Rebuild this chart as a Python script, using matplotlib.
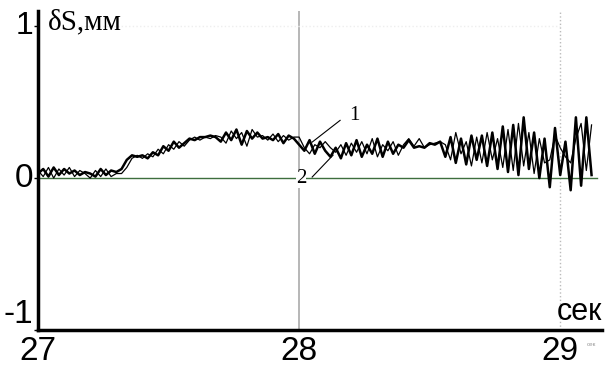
import numpy as np
import matplotlib.pyplot as plt

# time grid, step 0.02 s
t = np.round(27.0 + 0.02 * np.arange(107), 2)

# curve 1 (thick)
s1 = [0.03, 0.06, 0.01, 0.07, 0.02, 0.06, 0.03, 0.05, 0.02, 0.04, 0.03, 0.01, 0.06, 0.02, 0.05, 0.04,
      0.06, 0.12, 0.15, 0.14, 0.15, 0.13, 0.17, 0.15, 0.21, 0.18, 0.24, 0.20, 0.23, 0.26,
      0.25, 0.27, 0.27, 0.28, 0.27, 0.24, 0.30, 0.25, 0.32, 0.22, 0.31, 0.26, 0.30, 0.26,
      0.27, 0.25, 0.29, 0.23, 0.28, 0.26, 0.22, 0.18, 0.25, 0.16, 0.24, 0.18, 0.14, 0.20,
      0.13, 0.23, 0.15, 0.25, 0.14, 0.22, 0.16, 0.26, 0.14, 0.24, 0.16, 0.22, 0.20, 0.25,
      0.20, 0.21, 0.20, 0.23, 0.22, 0.24, 0.14, 0.27, 0.10, 0.26, 0.09, 0.28, 0.12, 0.28,
      0.08, 0.30, 0.06, 0.34, 0.04, 0.35, 0.02, 0.40, 0.06, 0.30, 0.00, 0.26, -0.06, 0.33,
      0.02, 0.24, -0.08, 0.40, -0.05, 0.40, 0.02]

# curve 2 (thin)
s2 = [0.05, 0.01, 0.07, 0.00, 0.06, 0.02, 0.07, 0.01, 0.05, 0.03, 0.00, 0.05, 0.01, 0.06, 0.01, 0.03,
      0.03, 0.07, 0.13, 0.15, 0.13, 0.16, 0.14, 0.19, 0.16, 0.22, 0.19, 0.24, 0.21, 0.25,
      0.27, 0.25, 0.27, 0.26, 0.28, 0.27, 0.23, 0.31, 0.26, 0.30, 0.21, 0.32, 0.27, 0.28,
      0.25, 0.29, 0.24, 0.28, 0.25, 0.27, 0.27, 0.20, 0.16, 0.22, 0.20, 0.24, 0.20, 0.17,
      0.22, 0.15, 0.23, 0.17, 0.24, 0.16, 0.26, 0.14, 0.22, 0.18, 0.24, 0.15, 0.22, 0.26,
      0.21, 0.26, 0.20, 0.22, 0.23, 0.24, 0.22, 0.12, 0.30, 0.16, 0.24, 0.08, 0.27, 0.10,
      0.30, 0.12, 0.26, 0.07, 0.32, 0.05, 0.36, 0.08, 0.30, 0.03, 0.26, 0.10, 0.12, 0.28,
      0.20, 0.14, 0.10, 0.26, 0.36, 0.05, 0.35]

xticks = [27, 28, 29]
yticks = [1, 0, -1]

plt.rcParams['font.family'] = ['Liberation Sans', 'DejaVu Sans']
serif = ['Liberation Serif', 'DejaVu Serif']

fig = plt.figure(figsize=(6.08, 3.67), dpi=100)
ax = fig.add_axes([38 / 608, 1 - 330 / 367, 564 / 608, 319 / 367])
ax.set_xlim(27, 29.16)
ax.set_ylim(-1, 1.1)

# guide lines
ax.axvline(28, color='#aaaaaa', lw=1.2, zorder=1)
ax.axvline(29, color='#bbbbbb', lw=1.0, ls=':', zorder=1)
ax.plot([27.15, 29.0], [1, 1], color='#eeeeee', lw=1, ls=':', zorder=1)
ax.plot([27, 29.14], [0, 0], color='#3d6e3d', lw=1, zorder=2)

ax.plot(t, s2, color='black', lw=0.9, zorder=3)
ax.plot(t, s1, color='black', lw=1.8, zorder=4)

# curve labels with leader lines
ax.plot([28.157, 28.05], [0.38, 0.237], color='black', lw=0.8, zorder=5)
ax.plot([28.05, 28.13], [0.007, 0.151], color='black', lw=0.8, zorder=5)
ax.text(28.21, 0.41, '1', family=serif, fontsize=15, ha='center', va='center', zorder=6)
ax.text(28.008, -0.005, '2', family=serif, fontsize=15, ha='center', va='center', zorder=6,
        bbox=dict(facecolor='white', edgecolor='none', pad=0))

for s in ['top', 'right']:
    ax.spines[s].set_visible(False)
for s in ['left', 'bottom']:
    ax.spines[s].set_linewidth(2.5)

ax.set_xticks(xticks)
ax.set_xticklabels([str(v) for v in xticks], fontsize=24)
ax.tick_params(axis='x', length=0, pad=4)
ax.set_yticks(yticks)
ax.set_yticklabels([])
ax.tick_params(axis='y', length=3, width=1)

ytr = ax.get_yaxis_transform()
ax.text(-0.008, 1, '1', transform=ytr, fontsize=23, ha='right', va='center')
ax.text(-0.008, 0, '0', transform=ytr, fontsize=24, ha='right', va='center')
ax.text(-0.008, -1, '-1', transform=ytr, fontsize=24, ha='right', va='bottom')

ax.text(0.018, 1.005, 'δS,мм', transform=ax.transAxes, fontsize=21,
        family=serif, ha='left', va='top')
ax.text(1.0, 0.01, 'сек', transform=ax.transAxes, fontsize=22, ha='right', va='bottom')
ax.text(29.12, -1.08, 'сек', fontsize=4.5, color='#999999', ha='center', va='top')

fig.savefig('out.png', dpi=100)
